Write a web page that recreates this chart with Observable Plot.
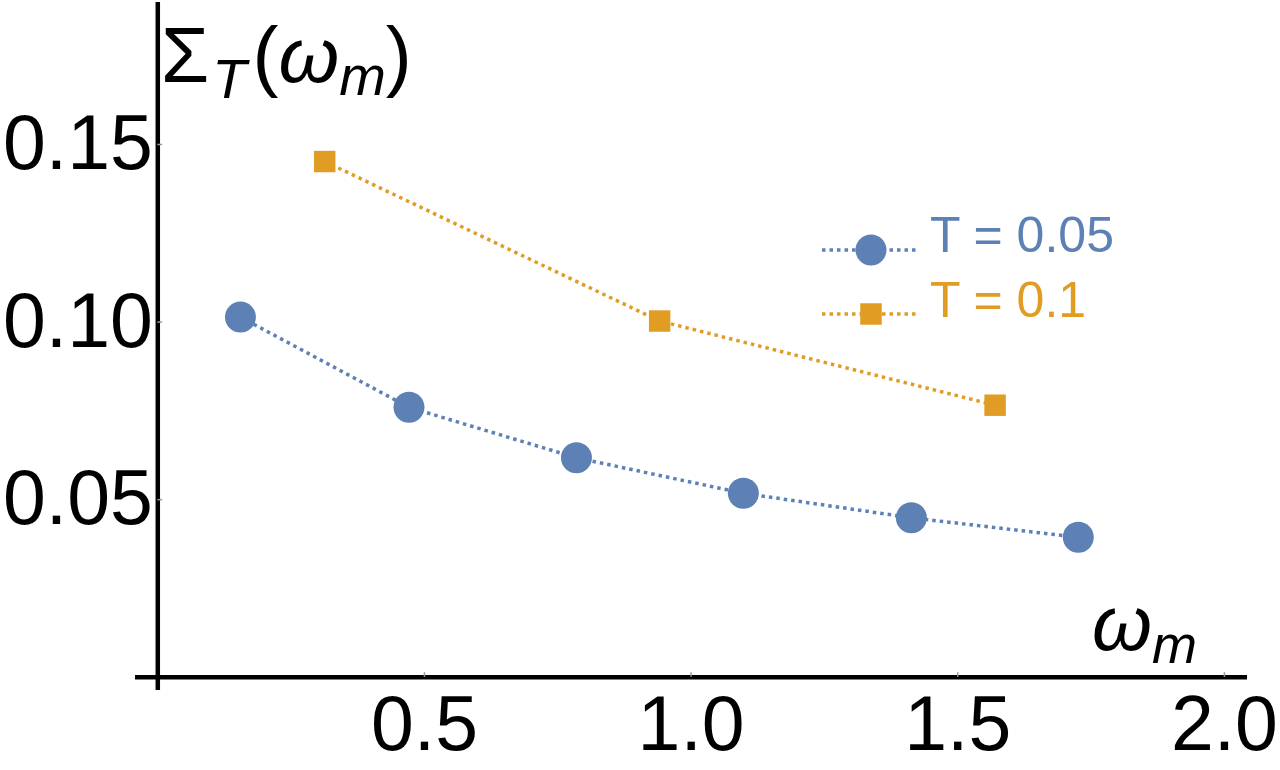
<!DOCTYPE html>
<html>
<head>
<meta charset="utf-8">
<script src="https://cdn.jsdelivr.net/npm/d3@7"></script>
<script src="https://cdn.jsdelivr.net/npm/@observablehq/plot@0.6"></script>
<style>
  html, body { margin: 0; padding: 0; background: #fff; }
  #chart svg { display: block; }
</style>
</head>
<body>
<div id="chart"></div>
<script>
// ---- data ----
const xTicks = [0.5, 1.0, 1.5, 2.0];
const yTicks = [0.05, 0.10, 0.15];
const xTickLabels = ["0.5", "1.0", "1.5", "2.0"];
const yTickLabels = ["0.05", "0.10", "0.15"];

const seriesNames = ["T = 0.05", "T = 0.1"];
const seriesColors = ["#5E81B5", "#E19C24"];

const omegaT005 = [0.155, 0.471, 0.785, 1.098, 1.413, 1.726];
const sigmaT005 = [0.1014, 0.0760, 0.0618, 0.0518, 0.0449, 0.0394];

const omegaT01 = [0.313, 0.941, 1.570];
const sigmaT01 = [0.1452, 0.1003, 0.0766];

// ---- build tables ----
const rowsA = omegaT005.map((w, i) => ({x: w, y: sigmaT005[i], s: seriesNames[0]}));
const rowsB = omegaT01.map((w, i) => ({x: w, y: sigmaT01[i], s: seriesNames[1]}));
const xTickRows = xTicks.map((v, i) => ({v, label: xTickLabels[i]}));
const yTickRows = yTicks.map((v, i) => ({v, label: yTickLabels[i]}));

const font = "'Liberation Sans', Arial, sans-serif";
const dash = "3.5,4";

const chart = Plot.plot({
  width: 1280,
  height: 770,
  marginLeft: 135,
  marginRight: 33,
  marginTop: 2,
  marginBottom: 80,
  x: {domain: [-0.0418, 2.0433], axis: null},
  y: {domain: [-0.00372, 0.18997], axis: null},
  style: {fontFamily: font, background: "white", overflow: "visible"},
  marks: [
    // axes
    Plot.ruleX([0], {stroke: "black", strokeWidth: 4.5}),
    Plot.ruleY([0], {stroke: "black", strokeWidth: 4.5}),
    // small tick marks
    Plot.ruleY(yTicks, {x1: 0, x2: 0.009, stroke: "#999", strokeWidth: 1.5}),
    Plot.ruleX(xTicks, {y1: 0, y2: 0.0013, stroke: "#999", strokeWidth: 1.5}),
    // tick labels
    Plot.text(yTickRows, {x: 0, y: "v", text: "label", textAnchor: "end", dx: -5, fontSize: 77, fill: "black"}),
    Plot.text(xTickRows, {x: "v", y: 0, text: "label", textAnchor: "middle", lineAnchor: "bottom", dy: 73, fontSize: 77, fill: "black"}),
    // series
    Plot.line(rowsA, {x: "x", y: "y", stroke: seriesColors[0], strokeWidth: 3.5, strokeDasharray: dash, strokeLinecap: "butt"}),
    Plot.line(rowsB, {x: "x", y: "y", stroke: seriesColors[1], strokeWidth: 3.5, strokeDasharray: dash, strokeLinecap: "butt"}),
    Plot.dot(rowsA, {x: "x", y: "y", r: 15.5, fill: seriesColors[0], stroke: null, symbol: "circle"}),
    Plot.dot(rowsB, {x: "x", y: "y", r: 12.1, fill: seriesColors[1], stroke: null, symbol: "square"})
  ]
});

document.getElementById("chart").appendChild(chart);

const svg = d3.select(chart);

// axis label: Σ_T(ω_m)
const yl = svg.append("text")
  .attr("x", 161).attr("y", 82)
  .attr("text-anchor", "start")
  .attr("font-family", font).attr("font-size", 78).attr("fill", "black");
yl.append("tspan").text("Σ");
yl.append("tspan").attr("font-style", "italic").attr("font-size", 56).attr("dx", 3).attr("dy", 16).text("T");
yl.append("tspan").attr("dx", 6).attr("dy", -16).text("(");
yl.append("tspan").attr("font-style", "italic").attr("dx", 0).text("ω");
yl.append("tspan").attr("font-style", "italic").attr("font-size", 56).attr("dy", 13).text("m");
yl.append("tspan").attr("dy", -13).text(")");

// axis label: ω_m
const xl = svg.append("text")
  .attr("x", 1092).attr("y", 650)
  .attr("text-anchor", "start")
  .attr("font-family", font).attr("font-size", 77).attr("fill", "black");
xl.append("tspan").attr("font-style", "italic").text("ω");
xl.append("tspan").attr("font-style", "italic").attr("font-size", 54).attr("dy", 13).text("m");

// legend
const legend = svg.append("g");
const legendRows = [
  {name: seriesNames[0], color: seriesColors[0], y: 250, shape: "circle"},
  {name: seriesNames[1], color: seriesColors[1], y: 314, shape: "square"}
];
legendRows.forEach(r => {
  legend.append("line")
    .attr("x1", 822).attr("x2", 917).attr("y1", r.y).attr("y2", r.y)
    .attr("stroke", r.color).attr("stroke-width", 3.5).attr("stroke-dasharray", dash);
  if (r.shape === "circle") {
    legend.append("circle").attr("cx", 871).attr("cy", r.y).attr("r", 15.5).attr("fill", r.color);
  } else {
    legend.append("rect").attr("x", 871 - 10.75).attr("y", r.y - 10.75)
      .attr("width", 21.5).attr("height", 21.5).attr("fill", r.color);
  }
  legend.append("text")
    .attr("x", 930).attr("y", r.shape === "circle" ? 252 : 317)
    .attr("text-anchor", "start")
    .attr("font-family", font).attr("font-size", 50)
    .attr("fill", r.color)
    .text(r.name);
});
</script>
</body>
</html>
